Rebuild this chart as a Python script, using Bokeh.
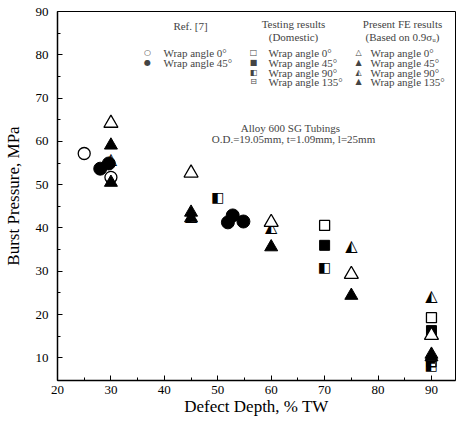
import numpy as np
from bokeh.plotting import figure
from bokeh.models import Label, Range1d, FixedTicker
from bokeh.core.properties import value
from bokeh.embed import file_html
from bokeh.resources import INLINE

# ---- data ----
ref0_x = [25, 30]
ref0_y = [57.2, 51.7]
ref45_x = [28, 29.6, 51.9, 52.8, 54.8]
ref45_y = [53.7, 54.9, 41.3, 42.9, 41.5]

test0_x = [70, 90]
test0_y = [40.6, 19.3]
test45_x = [70, 90]
test45_y = [36.0, 16.3]
test90_x = [50, 70, 90]
test90_y = [47.1, 31.0, 8.3]
test135_x = [90]
test135_y = [9.0]

fe0_x = [30, 45, 60, 75, 90]
fe0_y = [64.2, 52.7, 41.3, 29.3, 15.2]
fe45_x = [30, 45, 60, 75, 90]
fe45_y = [59.1, 43.6, 35.6, 24.4, 10.2]
fe90_x = [30, 45, 60, 75, 90]
fe90_y = [56.0, 42.8, 40.3, 36.0, 24.5]
fe135_x = [30, 45, 90]
fe135_y = [50.5, 42.3, 10.8]

x_ticks = [20, 30, 40, 50, 60, 70, 80, 90]
x_minor = [25, 35, 45, 55, 65, 75, 85]
y_ticks = [10, 20, 30, 40, 50, 60, 70, 80, 90]
y_minor = [15, 25, 35, 45, 55, 65, 75, 85]

SERIF = "Liberation Serif"

p = figure(width=458, height=421, output_backend="svg", toolbar_location=None,
           x_range=Range1d(20, 94.5), y_range=Range1d(4.78, 90),
           min_border_left=57, min_border_right=3, min_border_top=11, min_border_bottom=41)
p.grid.visible = False
p.outline_line_color = "black"
p.outline_line_width = 1
p.background_fill_color = "white"
p.border_fill_color = "white"

for ax in (p.xaxis[0], p.yaxis[0]):
    ax.major_tick_in = 5
    ax.major_tick_out = 0
    ax.minor_tick_in = 3
    ax.minor_tick_out = 0
    ax.axis_line_width = 1.5
    ax.major_label_text_font = SERIF
    ax.major_label_text_font_size = "13px"
    ax.major_label_text_color = "black"
    ax.axis_line_color = "black"
    ax.major_tick_line_color = "black"
    ax.minor_tick_line_color = "black"
    ax.axis_label_text_font = SERIF
    ax.axis_label_text_font_style = "normal"
    ax.axis_label_text_font_size = "17px"
    ax.axis_label_text_color = "black"

p.xaxis[0].ticker = FixedTicker(ticks=x_ticks, minor_ticks=x_minor)
p.yaxis[0].ticker = FixedTicker(ticks=y_ticks, minor_ticks=y_minor)
p.xaxis.major_label_standoff = 5
p.yaxis.major_label_standoff = 9
p.xaxis.axis_label = "Defect Depth, % TW"
p.xaxis.axis_label_standoff = 0
p.yaxis.axis_label = "Burst Pressure, MPa"
p.yaxis.axis_label_standoff = 10

LW = 1.3
# Ref [7]
p.scatter(ref0_x, ref0_y, marker="circle", size=12, fill_color="white", line_color="black", line_width=LW)
p.scatter(ref45_x, ref45_y, marker="circle", size=13, fill_color="black", line_color="black")

# Testing
p.scatter(test135_x, test135_y, marker="square", size=9, fill_color="white", line_color="black", line_width=LW)
p.scatter(test135_x, test135_y, marker="dash", size=7, line_color="black", line_width=3)
p.scatter(test0_x, test0_y, marker="square", size=10, fill_color="white", line_color="black", line_width=LW)
p.scatter(test45_x, test45_y, marker="square", size=10, fill_color="black", line_color="black")
p.text(test90_x, test90_y, text=["\u25E7"] * len(test90_x), text_font=value("DejaVu Sans"),
       text_font_size="14px", text_align="center", text_baseline="middle", text_color="black")

# FE
p.scatter(fe135_x, fe135_y, marker="triangle", size=13, fill_color="black", line_color="black")
p.text(fe90_x, fe90_y, text=["\u25ED"] * len(fe90_x), text_font=value("DejaVu Sans"),
       text_font_size="16px", text_align="center", text_baseline="middle", text_color="black")
p.scatter(fe45_x, fe45_y, marker="triangle", size=13, fill_color="black", line_color="black")
p.scatter(fe0_x, fe0_y, marker="triangle", size=14, fill_color="white", line_color="black", line_width=LW)

# ---- manual legend (screen coords relative to frame: sx = wx-57, sy = 380-wy) ----
def lab(wx, wy, text, size="11px", align="left", style="normal", font=SERIF):
    p.add_layout(Label(x=wx - 57, y=380 - wy, x_units="screen", y_units="screen",
                       text=text, text_font=font, text_font_size=size,
                       text_align=align, text_baseline="middle", text_font_style=style))

rows = [52, 62, 72, 81]
lab(190, 25, "Ref. [7]", align="center")
lab(293, 23, "Testing results", align="center")
lab(293, 36, "(Domestic)", align="center")
lab(402, 23, "Present FE results", align="center")
lab(402, 36, "(Based on 0.9\u03C3\u1D64)", align="center")

col1 = [("\u25CB", "Wrap angle 0\u00B0"), ("\u25CF", "Wrap angle 45\u00B0")]
col2 = [("\u25A1", "Wrap angle 0\u00B0"), ("\u25A0", "Wrap angle 45\u00B0"),
        ("\u25E7", "Wrap angle 90\u00B0"), ("\u229F", "Wrap angle 135\u00B0")]
col3 = [("\u25B3", "Wrap angle 0\u00B0"), ("\u25B2", "Wrap angle 45\u00B0"),
        ("\u25ED", "Wrap angle 90\u00B0"), ("\u25B2", "Wrap angle 135\u00B0")]
for (sym_x, txt_x, items) in [(147, 163, col1), (253, 268, col2), (358, 370, col3)]:
    for wy, (sym, txt) in zip(rows, items):
        lab(sym_x, wy, sym, size="8px", align="center", font="DejaVu Sans")
        lab(txt_x, wy, txt, size="11px")

lab(290, 127, "Alloy 600 SG Tubings", align="center")
lab(293, 138, "O.D.=19.05mm, t=1.09mm, l=25mm", align="center")

open("out.html", "w").write(file_html(p, INLINE))
